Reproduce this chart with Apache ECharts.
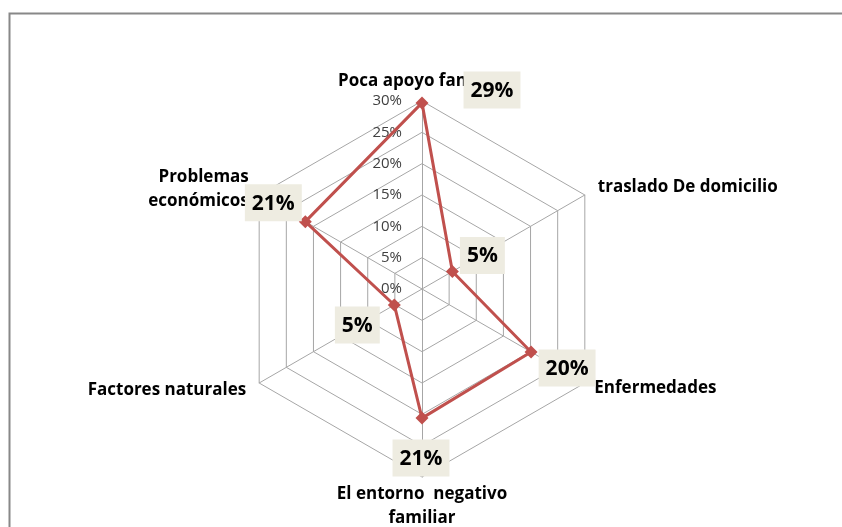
<!DOCTYPE html>
<html>
<head>
<meta charset="utf-8">
<script src="https://cdn.jsdelivr.net/npm/echarts@6/dist/echarts.min.js"></script>
<style>
  html, body { margin: 0; padding: 0; background: #fff; }
  #main { width: 842px; height: 527px; }
</style>
</head>
<body>
<div id="main"></div>
<script>
// indicator order: top, then counter-clockwise (as the radar lays them out)
var categories = ['Poca apoyo familiar', 'Problemas\necon\u00f3micos', 'Factores naturales',
                  'El entorno  negativo\nfamiliar', 'Enfermedades', 'traslado De domicilio'];
var values = [29.7, 21.5, 5.1, 20.6, 20.1, 5.6];
var labelText = ['29%', '21%', '5%', '21%', '20%', '5%'];
var tickLabels = ['0%', '5%', '10%', '15%', '20%', '25%', '30%'];

// where each value box sits relative to its point
var labelOffset = [[70, -13], [-32, -19], [-37, 20], [-1, 40], [36, 16], [30, -16]];
var nameGaps = [4, 12, 15, 5, 11, 15];

var chart = echarts.init(document.getElementById('main'));

var indicator = categories.map(function (c, i) {
  var ind = { name: c, max: 30, min: 0, nameGap: nameGaps[i] };
  if (i === 0) {
    ind.axisLabel = {
      show: true, color: '#404040', fontSize: 15, fontFamily: 'Open Sans', margin: 20,
      formatter: function (v) { return tickLabels[Math.round(v / 5)]; }
    };
  }
  return ind;
});

var series = [{
  type: 'radar',
  symbol: 'diamond',
  symbolSize: 13,
  z: 3,
  lineStyle: { color: '#C0504D', width: 3 },
  itemStyle: { color: '#C0504D' },
  data: [{ value: values }]
}];

labelText.forEach(function (t, k) {
  series.push({
    type: 'radar',
    symbol: 'circle',
    symbolSize: 1,
    silent: true,
    z: 4,
    lineStyle: { opacity: 0 },
    itemStyle: { color: 'rgba(0,0,0,0)', borderWidth: 0 },
    label: {
      show: true,
      position: 'inside',
      offset: labelOffset[k],
      formatter: function (p) {
        var d = p.dimensionIndex;
        if (d == null) d = values.indexOf(p.value);
        return d === k ? '{box|' + labelText[k] + '}' : '';
      },
      rich: {
        box: {
          backgroundColor: '#EEECE1',
          color: '#000',
          fontFamily: 'Open Sans',
          fontWeight: 'bold',
          fontSize: 21,
          padding: [9, 7, 7, 7]
        }
      }
    },
    data: [{ value: values }]
  });
});

chart.setOption({
  animation: false,
  graphic: [{
    type: 'rect',
    shape: { x: 9.5, y: 13.5, width: 900, height: 600 },
    style: { fill: 'none', stroke: '#888', lineWidth: 2 }
  }],
  radar: {
    center: [422, 289],
    radius: 188,
    startAngle: 90,
    splitNumber: 6,
    shape: 'polygon',
    indicator: indicator,
    axisName: {
      color: '#000',
      fontFamily: 'Open Sans',
      fontWeight: 'bold',
      fontSize: 17,
      lineHeight: 24
    },
    axisLine: { lineStyle: { color: '#a6a6a6', width: 1 } },
    splitLine: { lineStyle: { color: '#a6a6a6', width: 1 } },
    splitArea: { show: false },
    axisTick: { show: false },
    axisLabel: { show: false }
  },
  series: series
});
</script>
</body>
</html>
